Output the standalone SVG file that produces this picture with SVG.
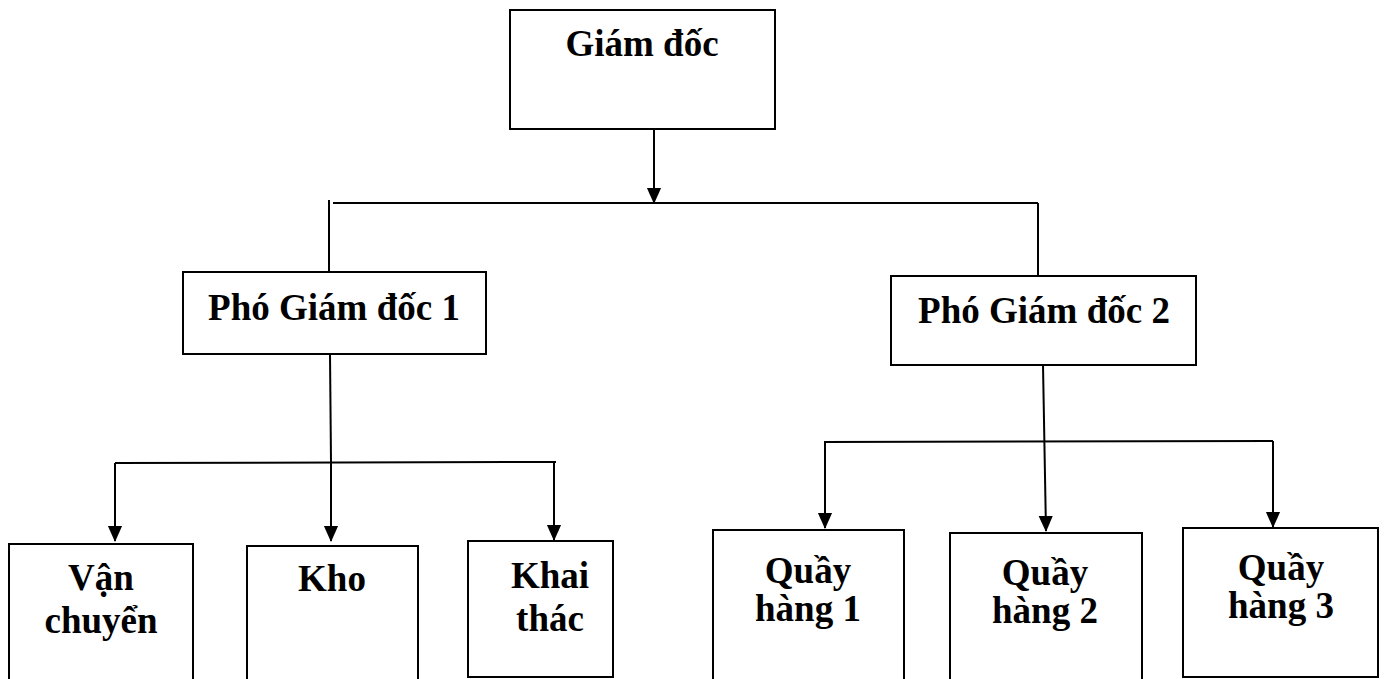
<svg xmlns="http://www.w3.org/2000/svg" width="1386" height="679" viewBox="0 0 1386 679">
<style>
.box{fill:#fff;stroke:#000;stroke-width:2}
.t{font-family:"Liberation Serif","Times New Roman",serif;font-weight:bold;font-size:37px;fill:#000;text-anchor:middle}
.c{stroke:#000;stroke-width:2;fill:none}
</style>
<defs>
<marker id="ad" markerUnits="userSpaceOnUse" markerWidth="16" markerHeight="18" refX="17" refY="8" orient="auto" viewBox="0 0 18 16">
<path d="M0,0 L18,8 L0,16 Z" fill="#000"/>
</marker>
</defs>
<rect width="1386" height="679" fill="#fff"/>
<g id="connectors">
<line class="c" x1="654" y1="129" x2="654" y2="203" marker-end="url(#ad)"/>
<line class="c" x1="333" y1="203" x2="1038" y2="203"/>
<line class="c" x1="329" y1="200" x2="329" y2="272"/>
<line class="c" x1="1038" y1="203" x2="1038" y2="276"/>
<line class="c" x1="330" y1="354" x2="331" y2="462"/>
<line class="c" x1="115" y1="463" x2="556" y2="462"/>
<line class="c" x1="115" y1="463" x2="115" y2="541" marker-end="url(#ad)"/>
<line class="c" x1="331" y1="462" x2="331" y2="541" marker-end="url(#ad)"/>
<line class="c" x1="554" y1="462" x2="554" y2="540" marker-end="url(#ad)"/>
<line class="c" x1="1043" y1="365" x2="1046" y2="531" marker-end="url(#ad)"/>
<line class="c" x1="824" y1="442" x2="1273" y2="441"/>
<line class="c" x1="825" y1="442" x2="825" y2="528" marker-end="url(#ad)"/>
<line class="c" x1="1273" y1="441" x2="1273" y2="527" marker-end="url(#ad)"/>
</g>
<g id="giam-doc">
<rect class="box" x="510" y="10" width="265" height="119"/>
<text class="t" x="642" y="56">Giám đốc</text>
</g>
<g id="pho-giam-doc-1">
<rect class="box" x="183" y="272" width="303" height="82"/>
<text class="t" x="334" y="320">Phó Giám đốc 1</text>
</g>
<g id="pho-giam-doc-2">
<rect class="box" x="891" y="276" width="305" height="89"/>
<text class="t" x="1044" y="323">Phó Giám đốc 2</text>
</g>
<g id="van-chuyen">
<rect class="box" x="9" y="544" width="184" height="150"/>
<text class="t" x="101" y="590">Vận</text>
<text class="t" x="101" y="633">chuyển</text>
</g>
<g id="kho">
<rect class="box" x="247" y="546" width="171" height="150"/>
<text class="t" x="332" y="591">Kho</text>
</g>
<g id="khai-thac">
<rect class="box" x="468" y="541" width="145" height="136"/>
<text class="t" x="550" y="588">Khai</text>
<text class="t" x="550" y="631">thác</text>
</g>
<g id="quay-hang-1">
<rect class="box" x="713" y="530" width="191" height="160"/>
<text class="t" x="808" y="583">Quầy</text>
<text class="t" x="808" y="621">hàng 1</text>
</g>
<g id="quay-hang-2">
<rect class="box" x="950" y="533" width="192" height="160"/>
<text class="t" x="1045" y="585">Quầy</text>
<text class="t" x="1045" y="623">hàng 2</text>
</g>
<g id="quay-hang-3">
<rect class="box" x="1183" y="528" width="195" height="149"/>
<text class="t" x="1281" y="580">Quầy</text>
<text class="t" x="1281" y="618">hàng 3</text>
</g>
</svg>
